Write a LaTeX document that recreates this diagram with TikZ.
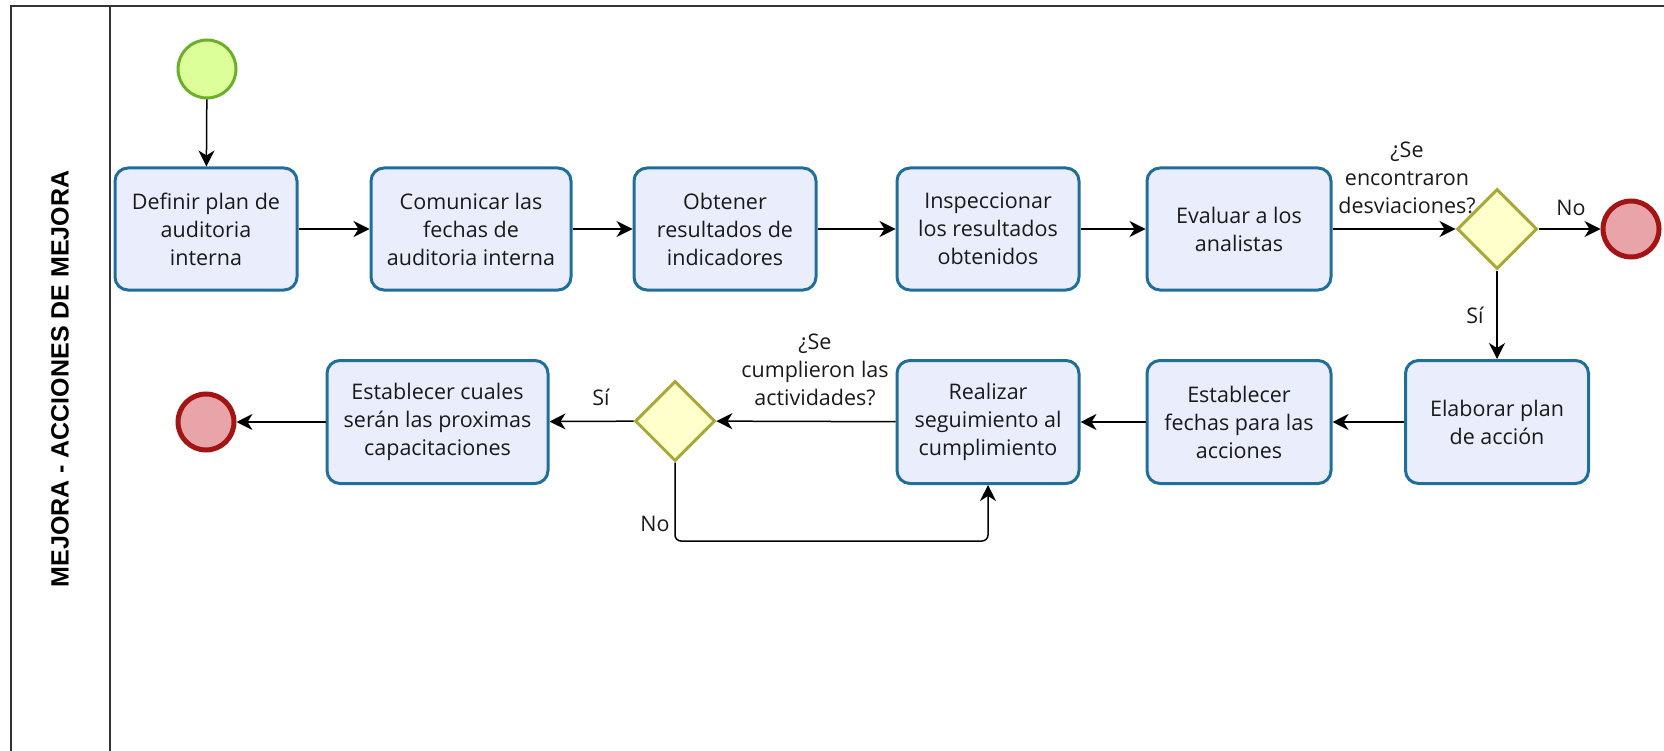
\documentclass[tikz,border=0pt]{standalone}
\usepackage{fontspec}
\setmainfont{Open Sans}
\newfontfamily\lanefont{Liberation Sans}
\usetikzlibrary{shapes.geometric,arrows.meta}

\definecolor{taskfill}{HTML}{EAEEFC}
\definecolor{taskline}{HTML}{1F6F9A}
\definecolor{startfill}{HTML}{DDFF99}
\definecolor{startline}{HTML}{6AAE2A}
\definecolor{endfill}{HTML}{E8A4A8}
\definecolor{endline}{HTML}{A31515}
\definecolor{gatefill}{HTML}{FFFFCC}
\definecolor{gateline}{HTML}{A8A838}
\definecolor{ink}{HTML}{1A1A1A}
\definecolor{framec}{HTML}{333333}

\begin{document}
\begin{tikzpicture}[x=1pt,y=-1pt,
  task/.style={rectangle, rounded corners=13pt, draw=taskline, line width=3pt,
    fill=taskfill, minimum height=122pt, text=ink, align=center,
    font=\fontsize{21.5}{28}\selectfont, inner sep=2pt},
  startev/.style={circle, draw=startline, line width=3pt, fill=startfill,
    minimum size=58pt, inner sep=0pt},
  endev/.style={circle, draw=endline, line width=5pt, fill=endfill,
    minimum size=56pt, inner sep=0pt},
  gateway/.style={diamond, draw=gateline, line width=3pt, fill=gatefill,
    minimum width=80pt, minimum height=80pt, inner sep=0pt},
  flow/.style={line width=1.5pt, draw=black,
    -{Stealth[length=16pt,width=16pt,inset=5pt]}},
  lbl/.style={text=ink, align=center, font=\fontsize{21.5}{28}\selectfont, inner sep=0pt},
  lane/.style={draw=framec, line width=2pt}]

\useasboundingbox (0,0) rectangle (1664,751);

% pool frame and lane header
\draw[lane] (10.5,751) -- (10.5,6.5) -- (1664,6.5);
\draw[lane] (110,6.5) -- (110,751);
\node[rotate=90, font=\lanefont\bfseries\fontsize{25}{28}\selectfont, text=black]
  (lanetitle) at (60,379) {MEJORA - ACCIONES DE MEJORA};

% events
\node[startev] (start) at (207,69) {};
\node[endev] (endA) at (1631,229) {};
\node[endev] (endB) at (206,422) {};

% first row of tasks
\node[task, minimum width=182pt] (t1) at (206,229) {Definir plan de\\auditoria\\interna};
\node[task, minimum width=200pt] (t2) at (471,229) {Comunicar las\\fechas de\\auditoria interna};
\node[task, minimum width=182pt] (t3) at (725,229) {Obtener\\resultados de\\indicadores};
\node[task, minimum width=182pt] (t4) at (988,229) {Inspeccionar\\los resultados\\obtenidos};
\node[task, minimum width=184pt] (t5) at (1239,229) {Evaluar a los\\analistas};

% second row of tasks
\node[task, minimum width=221pt, minimum height=123pt] (t9) at (437.5,422) {Establecer cuales\\serán las proximas\\capacitaciones};
\node[task, minimum width=182pt, minimum height=123pt] (t8) at (988,422) {Realizar\\seguimiento al\\cumplimiento};
\node[task, minimum width=184pt, minimum height=123pt] (t7) at (1239,422) {Establecer\\fechas para las\\acciones};
\node[task, minimum width=183pt, minimum height=123pt] (t6) at (1497,422) {Elaborar plan\\de acción};

% gateways
\node[gateway] (g1) at (1497,229) {};
\node[gateway] (g2) at (675,421) {};

% gateway questions and branch labels
\node[lbl] (q1) at (1407,178) {¿Se\\encontraron\\desviaciones?};
\node[lbl] (q2) at (815,370) {¿Se\\cumplieron las\\actividades?};
\node[lbl] (noA) at (1571,208) {No};
\node[lbl] (siA) at (1475,315) {Sí};
\node[lbl] (siB) at (601,397) {Sí};
\node[lbl] (noB) at (655,524) {No};

% sequence flows
\draw[flow] (start) -- (t1);
\draw[flow] (t1) -- (t2);
\draw[flow] (t2) -- (t3);
\draw[flow] (t3) -- (t4);
\draw[flow] (t4) -- (t5);
\draw[flow] (t5) -- (g1);
\draw[flow] (g1) -- (endA);
\draw[flow] (g1) -- (t6);
\draw[flow] (t6) -- (t7);
\draw[flow] (t7) -- (t8);
\draw[flow] (t8) -- (g2);
\draw[flow] (g2) -- (t9);
\draw[flow] (t9) -- (endB);
\draw[flow, rounded corners=6pt] (g2.south) -- (675,541) -| (t8.south);

\end{tikzpicture}
\end{document}
